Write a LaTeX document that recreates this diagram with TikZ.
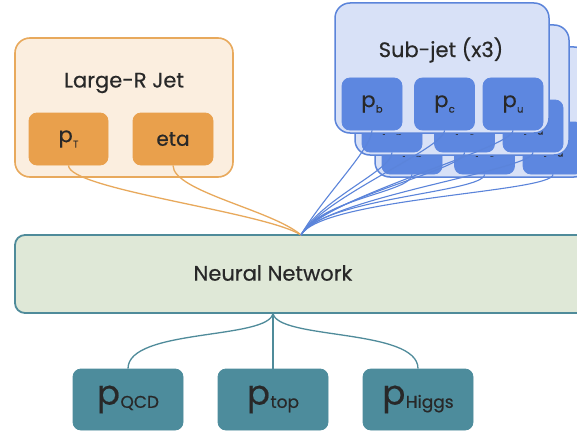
\documentclass[tikz,border=0pt]{standalone}
\usepackage{fontspec}
\setmainfont{Poppins}[FakeBold=0.5]
\definecolor{orgB}{HTML}{E8A95C}
\definecolor{orgL}{HTML}{FBEEDF}
\definecolor{orgM}{HTML}{E9A04C}
\definecolor{bluB}{HTML}{5B84DA}
\definecolor{bluL}{HTML}{D8E1F7}
\definecolor{bluM}{HTML}{5D87E0}
\definecolor{nnF}{HTML}{DFE8D7}
\definecolor{nnB}{HTML}{4F8B9A}
\definecolor{outF}{HTML}{4D8C9C}
\definecolor{txt}{HTML}{282828}
\newcommand\plab[1]{{\fontsize{21}{21}\selectfont p}\kern0.3pt\raisebox{-0.5ex}{\fontsize{10}{10}\selectfont #1}}
\newcommand\olab[1]{{\fontsize{34}{34}\selectfont p}\kern0.5pt\raisebox{-0.6ex}{\fontsize{17}{17}\selectfont #1}}
\begin{document}
\begin{tikzpicture}[x=1pt,y=-1pt,
  outerO/.style={draw=orgB,fill=orgL,line width=1.6pt,rounded corners=15pt,inner sep=0pt},
  innerO/.style={draw=orgM,fill=orgM,line width=0.8pt,rounded corners=8pt,inner sep=0pt,
     minimum width=79pt,minimum height=52pt,text=txt,font=\fontsize{20}{22}\selectfont},
  outerB/.style={draw=bluB,fill=bluL,line width=1.5pt,rounded corners=15pt,inner sep=0pt,
     minimum width=214pt,minimum height=130pt},
  innerB/.style={draw=bluM,fill=bluM,line width=0.8pt,rounded corners=8pt,inner sep=0pt,
     minimum width=60pt,minimum height=52pt,text=txt,font=\fontsize{20}{22}\selectfont},
  nnbox/.style={draw=nnB,fill=nnF,line width=1.8pt,rounded corners=10pt,inner sep=0pt},
  outbox/.style={draw=outF,fill=outF,line width=0.8pt,rounded corners=8pt,inner sep=0pt,
     minimum width=110pt,minimum height=61pt,text=txt},
  title/.style={text=txt,font=\fontsize{21}{23}\selectfont,inner sep=0pt},
  olink/.style={draw=orgB,line width=1.3pt},
  blink/.style={draw=bluB,line width=1.1pt},
  tlink/.style={draw=nnB,line width=1.3pt}]
\clip (0,0) rectangle (577,433);
\fill[white] (0,0) rectangle (577,433);

% Large-R Jet
\node[outerO,minimum width=218pt,minimum height=139pt] (lrj) at (124,107.5) {};
\node[title] (lrjt) at (124,83) {Large-R Jet};
\node[innerO] (pt) at (68.5,139) {\plab{T}};
\node[innerO,minimum width=80pt] (eta) at (173,139) {eta};

% Sub-jets (stacked)
\foreach \k in {2,1,0} {
  \node[outerB] (sjbox\k) at ({442+20*\k},{68+22*\k}) {};
  \foreach \i/\x/\s in {1/372/b,2/444.5/c,3/513/u} {
    \node[innerB] (sj\k\i) at ({\x+20*\k},{104+22*\k}) {\plab{\s}};
  }
}
\node[title] (sjt) at (441,50) {Sub-jet (x3)};

% Neural network
\node[nnbox,minimum width=585pt,minimum height=78pt] (nn) at (307.5,274) {};
\node[title] (nnt) at (273,273) {Neural Network};
\coordinate (nntop) at (301,235);
\coordinate (nnbot) at (273,313);

% Outputs
\node[outbox] (qcd) at (128,399.5) {\olab{QCD}};
\node[outbox] (top) at (273,399.5) {\olab{top}};
\node[outbox] (hig) at (418,399.5) {\olab{Higgs}};

% Connectors
\draw[olink] (pt.south) .. controls +(0,24) and (265,212) .. (nntop);
\draw[olink] (eta.south) .. controls +(0,26) and (272,210) .. (nntop);
\foreach \k in {0,1,2} {
  \foreach \i in {1,2,3} {
    \draw[blink] (sj\k\i.south) .. controls +(0,18) and (322,198) .. (nntop);
  }
}
\draw[tlink] (nnbot) .. controls (270,340) and (128,328) .. (qcd.north);
\draw[tlink] (nnbot) -- (top.north);
\draw[tlink] (nnbot) .. controls (276,340) and (418,328) .. (hig.north);
\end{tikzpicture}
\end{document}
